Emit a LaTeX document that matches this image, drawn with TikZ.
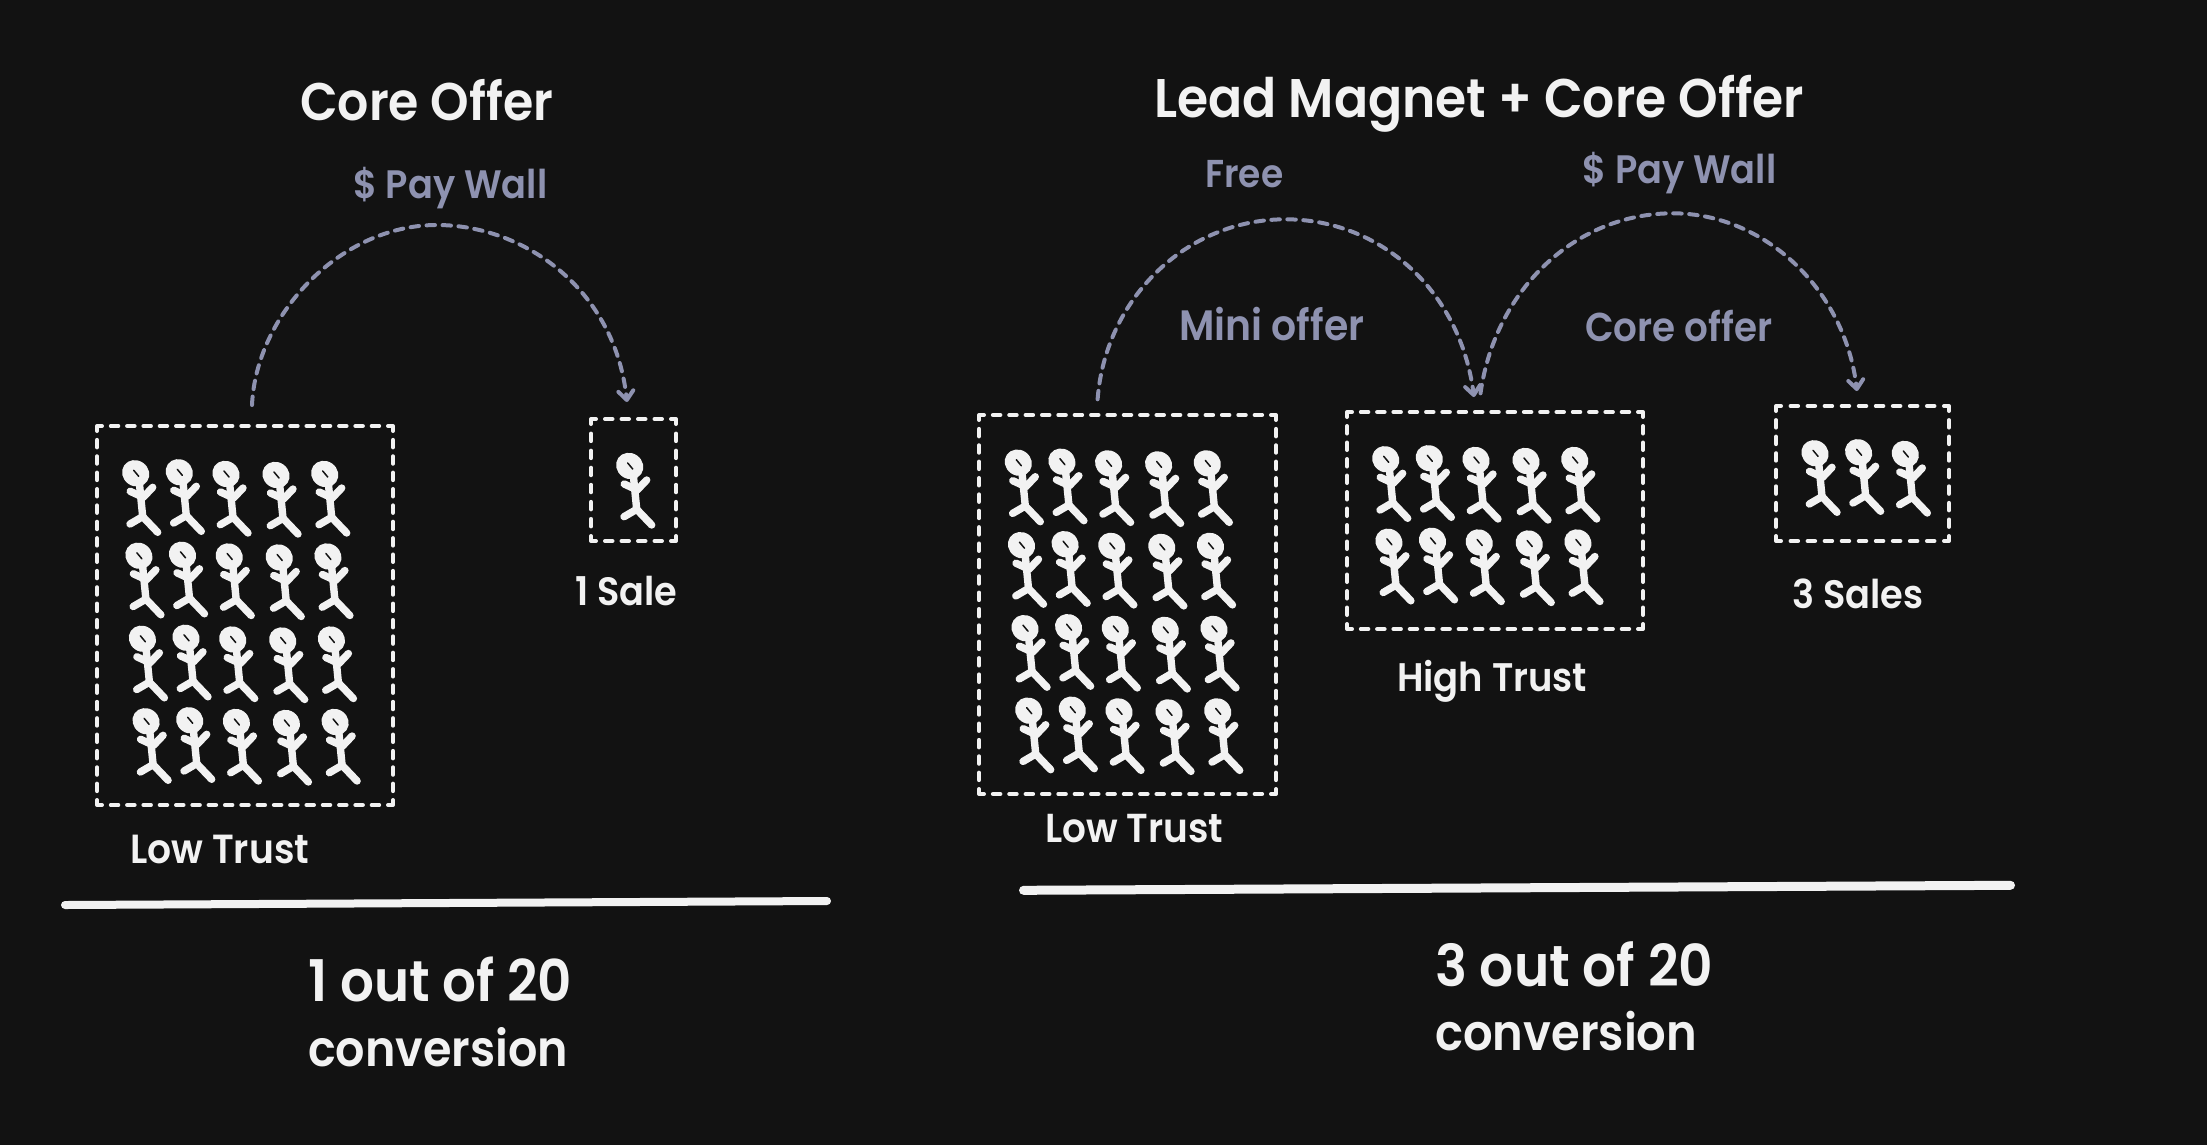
\documentclass[tikz,border=0pt]{standalone}
\usepackage{fontspec}
\usepackage{graphicx}
\setmainfont{Poppins}[UprightFont=* SemiBold]
\usetikzlibrary{arrows.meta,calc}
\definecolor{bgc}{HTML}{121212}
\definecolor{inkc}{HTML}{F2F2F2}
\definecolor{mutec}{HTML}{8E92B0}
\tikzset{
  boxline/.style={draw=inkc,line width=4pt,line cap=round},
  arcline/.style={draw=mutec,line width=4pt,line cap=round,dash pattern=on 8.5pt off 7.5pt},
  archead/.style={-{Straight Barb[length=9pt,width=15pt,line width=4pt,round]}},
  rule/.style={draw=inkc,line width=8pt,line cap=round},
  limb/.style={draw=inkc,line width=7.4pt,line cap=round,line join=round},
  person/.pic={
    \fill[inkc,rotate around={-35:(0,0)}] (0,0) ellipse [x radius=14pt,y radius=12.8pt];
    \draw[limb] (-5.5,18) -- (7.5,24) -- (17,14);
    \draw[limb] (3.7,10) -- (7,43.3);
    \draw[limb] (-5.7,50.7) -- (7,43.3) -- (22,59);
    \draw[bgc,line width=1.5pt,line cap=round] (-2,-3) -- (3,3);
  }
}
\newcommand{\dside}[4]{%
  \pgfmathsetmacro{\dlen}{veclen(#3-#1,#4-#2)}%
  \pgfmathsetmacro{\dcnt}{round((\dlen-10-9)/16.5)}%
  \pgfmathsetmacro{\dgap}{(\dlen-10-\dcnt*7.5)/(\dcnt+1)}%
  \pgfmathsetmacro{\dux}{(#3-#1)/\dlen}%
  \pgfmathsetmacro{\duy}{(#4-#2)/\dlen}%
  \pgfmathsetmacro{\dst}{5+\dgap}%
  \draw[boxline,dash pattern=on 7.5pt off \dgap pt]
    ({#1+\dux*\dst},{#2+\duy*\dst}) -- ({#3-\dux*\dst},{#4-\duy*\dst});
}
\newcommand{\dbox}[5]{%
  \pgfmathsetmacro{\bw}{#4-#2}\pgfmathsetmacro{\bh}{#5-#3}%
  \node[inner sep=0pt,minimum width=\bw pt,minimum height=\bh pt] (#1) at ({(#2+#4)/2},{(#3+#5)/2}) {};
  \dside{#2}{#3}{#4}{#3}\dside{#2}{#5}{#4}{#5}\dside{#2}{#3}{#2}{#5}\dside{#4}{#3}{#4}{#5}
  \draw[boxline,line join=round] (#2+5,#3) -- (#2,#3) -- (#2,#3+5);
  \draw[boxline,line join=round] (#4-5,#3) -- (#4,#3) -- (#4,#3+5);
  \draw[boxline,line join=round] (#2+5,#5) -- (#2,#5) -- (#2,#5-5);
  \draw[boxline,line join=round] (#4-5,#5) -- (#4,#5) -- (#4,#5-5);
}
\newcommand{\lbl}[6]{% name, x, baseline, width, colour, text
  \node[anchor=base west,inner sep=0pt,text=#5] (#1) at (#2,#3+3) {\scalebox{1}[1.08]{\resizebox{#4pt}{!}{#6}}};
}
\newcommand{\crowd}[4]{% ox, oy, rows, cols
  \foreach \rx/\ry in {#3}{\foreach \cx/\cy in {#4}{
    \pic at ({#1+\rx+\cx},{#2+\ry+\cy}) {person};
  }}
}
\begin{document}
\begin{tikzpicture}[x=1pt,y=-1pt]
\useasboundingbox (0,0) rectangle (2207,1144);
\fill[bgc] (-5,-5) rectangle (2212,1149);

% left panel
\dbox{lowa}{97}{426}{393}{805}
\dbox{salea}{591}{419}{676}{541}
\crowd{135.7}{473.3}{0/0,3.2/82.5,6.7/165.5,10.4/248}{0/0,43.6/-1,90.3/.7,140.3/1.7,189/.7}
\crowd{629.7}{466}{0/0}{0/0}

\lbl{ta}{300}{117}{253}{inkc}{Core Offer}
\lbl{pa}{353}{195}{194}{mutec}{\$ Pay Wall}
\lbl{la}{130}{860}{179}{inkc}{Low Trust}
\lbl{sa}{575}{602}{102}{inkc}{1 Sale}
\lbl{ca}{308}{998}{264}{inkc}{1 out of 20}
\lbl{cb}{308}{1063}{260}{inkc}{conversion}

\coordinate (a0) at (252,405);
\coordinate (a1) at (436.7,225);
\coordinate (a2) at (627,402);
\draw[arcline,archead] (a0) .. controls (256,315) and (340,225) .. (a1)
  .. controls (525,225) and (615,290) .. (a2);

\coordinate (ra) at (61,905);
\coordinate (rb) at (831,901);
\draw[rule] ($(ra)+(4,0)$) -- ($(rb)+(-4,0)$);

% right panel
\dbox{lowb}{979}{415}{1276}{794}
\dbox{high}{1347}{412}{1643}{629}
\dbox{saleb}{1776}{406}{1949}{541}
\crowd{1018.3}{462.7}{0/0,3.2/82.5,6.7/165.5,10.4/248}{0/0,43.6/-1,90.3/.7,140.3/1.7,189/.7}
\crowd{1385.7}{459.3}{0/0,3.2/82.5}{0/0,43.6/-1,90.3/.7,140.3/1.7,189/.7}
\crowd{1815}{453.3}{0/0}{0/0,43.6/-1,90.3/.7}

\lbl{tb}{1154}{114}{650}{inkc}{Lead Magnet + Core Offer}
\lbl{fr}{1205}{184}{78}{mutec}{Free}
\lbl{pb}{1582}{180}{194}{mutec}{\$ Pay Wall}
\lbl{mi}{1179}{337}{185}{mutec}{Mini offer}
\lbl{co}{1585}{338}{187}{mutec}{Core offer}
\lbl{lb}{1045}{839}{178}{inkc}{Low Trust}
\lbl{hi}{1397}{688}{190}{inkc}{High Trust}
\lbl{sb}{1792}{605}{131}{inkc}{3 Sales}
\lbl{cc}{1435}{983}{278}{inkc}{3 out of 20}
\lbl{cd}{1435}{1047}{262}{inkc}{conversion}

\coordinate (b0) at (1097.6,399.3);
\coordinate (b1) at (1285.4,219.3);
\coordinate (b2) at (1474,397);
\draw[arcline,archead] (b0) .. controls (1105,300) and (1185,219.3) .. (b1)
  .. controls (1380,219.3) and (1460,290) .. (b2);
\coordinate (c0) at (1480.5,393.3);
\coordinate (c1) at (1672.8,213.3);
\coordinate (c2) at (1857,391);
\draw[arcline,archead] (c0) .. controls (1495,290) and (1575,213.3) .. (c1)
  .. controls (1765,213.3) and (1845,290) .. (c2);

\coordinate (rc) at (1019,890.3);
\coordinate (rd) at (2015,885.3);
\draw[rule,line width=9pt] ($(rc)+(4.5,0)$) -- ($(rd)+(-4.5,0)$);
\end{tikzpicture}
\end{document}
